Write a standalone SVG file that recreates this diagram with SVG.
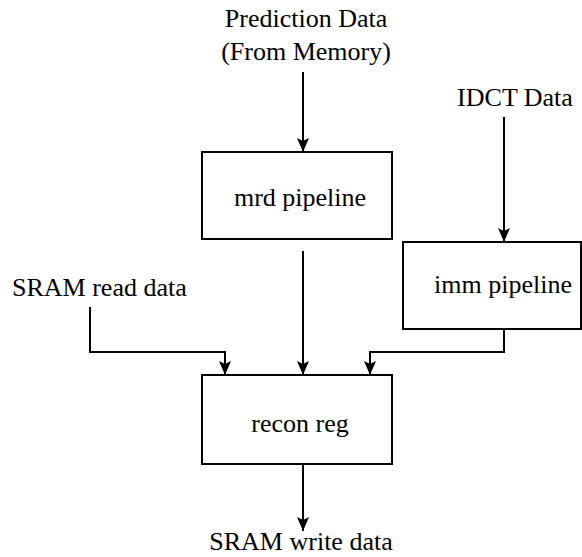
<svg xmlns="http://www.w3.org/2000/svg" width="582" height="557" viewBox="0 0 582 557">
<style>
.box{fill:#fff;stroke:#000;stroke-width:2}
.wire{fill:none;stroke:#000;stroke-width:2}
.t{font-size:26px;fill:#000}
.c{text-anchor:middle}
</style>
<defs>
<marker id="arr" markerUnits="userSpaceOnUse" viewBox="0 0 14 12" refX="14" refY="6" markerWidth="14" markerHeight="12" orient="auto">
<path d="M0,0 L14,6 L0,12 L3,6 Z" fill="#000"/>
</marker>
</defs>
<rect width="582" height="557" fill="#fff"/>
<g font-family="Liberation Serif, Times New Roman, serif">
<g id="labels">
<text class="t c" x="306" y="27">Prediction Data</text>
<text class="t c" x="306" y="60">(From Memory)</text>
<text class="t c" x="515" y="106">IDCT Data</text>
<text class="t" x="12" y="296">SRAM read data</text>
<text class="t c" x="301" y="550">SRAM write data</text>
</g>
<g id="mrd">
<rect class="box" x="202" y="152" width="190" height="87"/>
<text class="t c" x="300" y="206">mrd pipeline</text>
</g>
<g id="imm">
<rect class="box" x="403" y="242" width="178" height="87"/>
<text class="t c" x="503" y="293">imm pipeline</text>
</g>
<g id="recon">
<rect class="box" x="202" y="375" width="190" height="89"/>
<text class="t c" x="300" y="432">recon reg</text>
</g>
</g>
<g id="connectors">
<path class="wire" d="M303,72 V152" marker-end="url(#arr)"/>
<path class="wire" d="M504,117 V242" marker-end="url(#arr)"/>
<path class="wire" d="M303,251 V375" marker-end="url(#arr)"/>
<path class="wire" d="M90,307 V352 H225 V375" marker-end="url(#arr)"/>
<path class="wire" d="M504,329 V352 H370 V375" marker-end="url(#arr)"/>
<path class="wire" d="M303,464 V531" marker-end="url(#arr)"/>
</g>
</svg>
